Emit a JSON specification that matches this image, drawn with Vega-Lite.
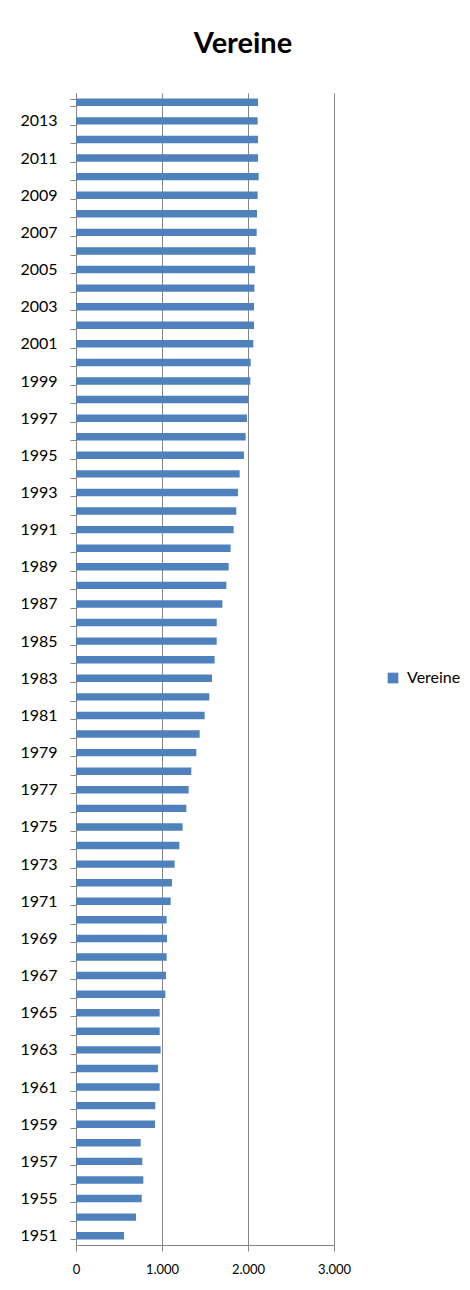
{
  "$schema": "https://vega.github.io/schema/vega-lite/v6.json",
  "autosize": "none",
  "width": 258,
  "height": 1152,
  "padding": {"left": 76, "top": 93, "right": 136, "bottom": 45},
  "background": "white",
  "title": {
    "text": "Vereine",
    "font": "Lato",
    "fontSize": 29,
    "fontWeight": "bold",
    "color": "#000000",
    "anchor": "middle",
    "dx": 38,
    "offset": -3,
    "baseline": "bottom"
  },
  "data": {
    "values": [
      {"Jahr": 2014, "Vereine": 2116},
      {"Jahr": 2013, "Vereine": 2112},
      {"Jahr": 2012, "Vereine": 2116},
      {"Jahr": 2011, "Vereine": 2116},
      {"Jahr": 2010, "Vereine": 2124},
      {"Jahr": 2009, "Vereine": 2112},
      {"Jahr": 2008, "Vereine": 2105},
      {"Jahr": 2007, "Vereine": 2101},
      {"Jahr": 2006, "Vereine": 2089},
      {"Jahr": 2005, "Vereine": 2081},
      {"Jahr": 2004, "Vereine": 2074},
      {"Jahr": 2003, "Vereine": 2070},
      {"Jahr": 2002, "Vereine": 2070},
      {"Jahr": 2001, "Vereine": 2062},
      {"Jahr": 2000, "Vereine": 2031},
      {"Jahr": 1999, "Vereine": 2027},
      {"Jahr": 1998, "Vereine": 2004},
      {"Jahr": 1997, "Vereine": 1988},
      {"Jahr": 1996, "Vereine": 1973},
      {"Jahr": 1995, "Vereine": 1953},
      {"Jahr": 1994, "Vereine": 1903},
      {"Jahr": 1993, "Vereine": 1884},
      {"Jahr": 1992, "Vereine": 1864},
      {"Jahr": 1991, "Vereine": 1833},
      {"Jahr": 1990, "Vereine": 1798},
      {"Jahr": 1989, "Vereine": 1775},
      {"Jahr": 1988, "Vereine": 1748},
      {"Jahr": 1987, "Vereine": 1702},
      {"Jahr": 1986, "Vereine": 1636},
      {"Jahr": 1985, "Vereine": 1636},
      {"Jahr": 1984, "Vereine": 1612},
      {"Jahr": 1983, "Vereine": 1581},
      {"Jahr": 1982, "Vereine": 1550},
      {"Jahr": 1981, "Vereine": 1496},
      {"Jahr": 1980, "Vereine": 1438},
      {"Jahr": 1979, "Vereine": 1399},
      {"Jahr": 1978, "Vereine": 1341},
      {"Jahr": 1977, "Vereine": 1310},
      {"Jahr": 1976, "Vereine": 1283},
      {"Jahr": 1975, "Vereine": 1240},
      {"Jahr": 1974, "Vereine": 1202},
      {"Jahr": 1973, "Vereine": 1147},
      {"Jahr": 1972, "Vereine": 1116},
      {"Jahr": 1971, "Vereine": 1101},
      {"Jahr": 1970, "Vereine": 1054},
      {"Jahr": 1969, "Vereine": 1058},
      {"Jahr": 1968, "Vereine": 1054},
      {"Jahr": 1967, "Vereine": 1047},
      {"Jahr": 1966, "Vereine": 1039},
      {"Jahr": 1965, "Vereine": 973},
      {"Jahr": 1964, "Vereine": 973},
      {"Jahr": 1963, "Vereine": 984},
      {"Jahr": 1962, "Vereine": 953},
      {"Jahr": 1961, "Vereine": 973},
      {"Jahr": 1960, "Vereine": 922},
      {"Jahr": 1959, "Vereine": 919},
      {"Jahr": 1958, "Vereine": 752},
      {"Jahr": 1957, "Vereine": 771},
      {"Jahr": 1956, "Vereine": 783},
      {"Jahr": 1955, "Vereine": 764},
      {"Jahr": 1954, "Vereine": 698},
      {"Jahr": 1951, "Vereine": 558}
    ]
  },
  "mark": {"type": "bar", "color": "#4F81BD"},
  "encoding": {
    "y": {
      "field": "Jahr",
      "type": "ordinal",
      "sort": "descending",
      "scale": {"paddingInner": 0.6, "paddingOuter": 0.3},
      "axis": {
        "title": null,
        "labelExpr": "datum.value % 2 == 1 ? datum.label : ''",
        "tickBand": "extent",
        "tickSize": 6,
        "tickColor": "#868686",
        "domainColor": "#868686",
        "labelFont": "Lato",
        "labelFontSize": 16,
        "labelColor": "#000000",
        "labelPadding": 13
      }
    },
    "x": {
      "field": "Vereine",
      "type": "quantitative",
      "scale": {"domain": [0, 3000], "nice": false},
      "axis": {
        "title": null,
        "values": [0, 1000, 2000, 3000],
        "labelExpr": "replace(format(datum.value, ','), ',', '.')",
        "grid": true,
        "gridColor": "#868686",
        "tickSize": 6,
        "tickColor": "#868686",
        "domainColor": "#868686",
        "labelFont": "Lato",
        "labelFontSize": 13,
        "labelColor": "#000000",
        "labelPadding": 12,
        "labelFlush": false
      }
    },
    "color": {
      "datum": "Vereine",
      "scale": {"range": ["#4F81BD"]},
      "legend": {
        "title": null,
        "orient": "none",
        "legendX": 309,
        "legendY": 577,
        "padding": 0,
        "symbolType": "square",
        "symbolSize": 114,
        "symbolStrokeWidth": 0,
        "labelFont": "Lato",
        "labelFontSize": 16,
        "labelColor": "#000000",
        "labelOffset": 6
      }
    }
  },
  "config": {"view": {"stroke": null}}
}
